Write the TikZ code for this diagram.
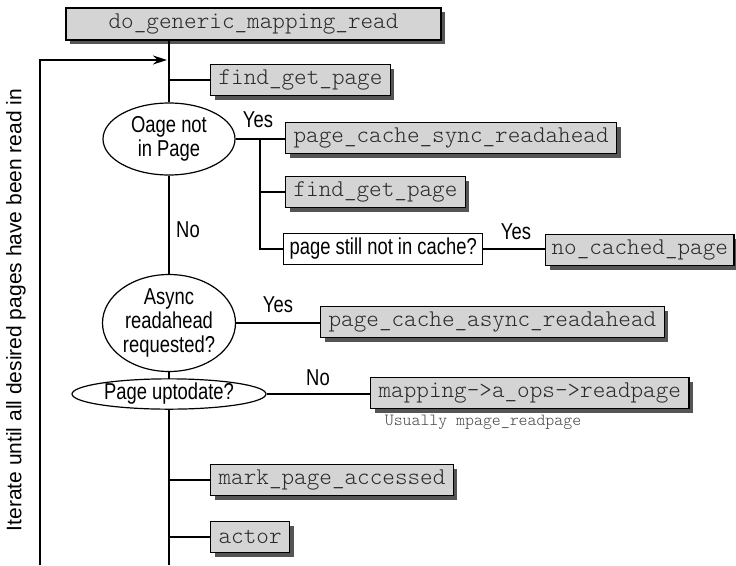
\documentclass[tikz,border=0pt]{standalone}
\usepackage{fontspec}
\setmainfont{Liberation Sans}
\setmonofont{Latin Modern Mono Light}
\newfontfamily\condfont[FakeStretch=0.8]{Liberation Sans}
\usetikzlibrary{shapes.geometric,shadows,arrows.meta}
\definecolor{boxgray}{HTML}{D4D4D4}
\definecolor{shadowgray}{HTML}{555555}
\definecolor{txtgray}{HTML}{2A2A2A}
\definecolor{notegray}{HTML}{444444}
\tikzset{
  fnbox/.style={draw=black, line width=1.2pt, fill=boxgray,
    drop shadow={shadow xshift=4pt, shadow yshift=-4pt, fill=shadowgray, opacity=1},
    font=\ttfamily\fontsize{24}{26}\selectfont, text=txtgray,
    inner xsep=8pt, inner ysep=0pt, minimum height=31pt, anchor=west},
  qbox/.style={draw=black, line width=1.2pt, fill=white,
    font=\condfont\fontsize{23}{25}\selectfont,
    inner xsep=6pt, inner ysep=0pt, minimum height=31pt, anchor=west},
  decis/.style={ellipse, draw=black, line width=1.2pt, fill=white, inner sep=0pt,
    align=center, font=\condfont\fontsize{23}{24}\selectfont},
  lbl/.style={font=\condfont\fontsize{23}{25}\selectfont, inner sep=0pt},
  conn/.style={line width=1.5pt},
}
\begin{document}
\begin{tikzpicture}[x=1pt,y=-1pt]
\useasboundingbox (0,0) rectangle (736,565);

% nodes
\node[fnbox, anchor=center, minimum width=375pt, minimum height=32pt] (top) at (253.5,24) {do\_generic\_mapping\_read};
\node[fnbox] (fgp1) at (210,80) {find\_get\_page};
\node[decis, minimum width=132pt, minimum height=72pt] (e1) at (169,139) {Oage not\\in Page};
\node[fnbox] (sync) at (285,138) {page\_cache\_sync\_readahead};
\node[fnbox] (fgp2) at (285,192) {find\_get\_page};
\node[qbox] (still) at (283,249) {page still not in cache?};
\node[fnbox, inner xsep=6pt] (nocache) at (545,250) {no\_cached\_page};
\node[decis, minimum width=133pt, minimum height=77pt] (e2) at (169,323) {Async\\readahead\\requested?};
\node[fnbox] (async) at (320,322) {page\_cache\_async\_readahead};
\node[decis, minimum width=194pt, minimum height=28pt] (e3) at (169,394) {Page uptodate?};
\node[fnbox] (readpage) at (370,393) {mapping->a\_ops->readpage};
\node[font=\ttfamily\fontsize{17}{19}\selectfont, text=notegray, inner sep=0pt] (usually) at (483,422) {Usually mpage\_readpage};
\node[fnbox] (mark) at (210,480) {mark\_page\_accessed};
\node[fnbox] (actor) at (210,537) {actor};

% labels
\node[lbl] (yes1) at (258,120) {Yes};
\node[lbl] (yes2) at (516,232) {Yes};
\node[lbl] (no1) at (188,230) {No};
\node[lbl] (yes3) at (278,305) {Yes};
\node[lbl] (no2) at (318,378) {No};
\node[font=\fontsize{21}{24}\selectfont, rotate=90, inner sep=0pt] (iter) at (16,310) {Iterate until all desired pages have been read in};

% coordinates
\coordinate (spinetop) at (169,40);
\coordinate (spinebot) at (169,565);
\coordinate (loopbot) at (40,565);
\coordinate (looparr) at (167,60);
\coordinate (fork) at (260,139);

% spine
\draw[conn] (spinetop) -- (e1.north);
\draw[conn] (e1.south) -- (e2.north);
\draw[conn] (e2.south) -- (e3.north);
\draw[conn] (e3.south) -- (spinebot);

% loop
\draw[conn, -{Stealth[length=14pt,width=9pt]}] (loopbot) |- (looparr);

% branches
\draw[conn] (spinetop |- fgp1.west) -- (fgp1.west);
\draw[conn] (e1.east) -- (e1.east -| sync.west);
\draw[conn] (fork) |- (still.west);
\draw[conn] (fork |- fgp2.west) -- (fgp2.west);
\draw[conn] (still.east) -- (still.east -| nocache.west);
\draw[conn] (e2.east) -- (e2.east -| async.west);
\draw[conn] (e3.east) -- (e3.east -| readpage.west);
\draw[conn] (spinetop |- mark.west) -- (mark.west);
\draw[conn] (spinetop |- actor.west) -- (actor.west);
\end{tikzpicture}
\end{document}
